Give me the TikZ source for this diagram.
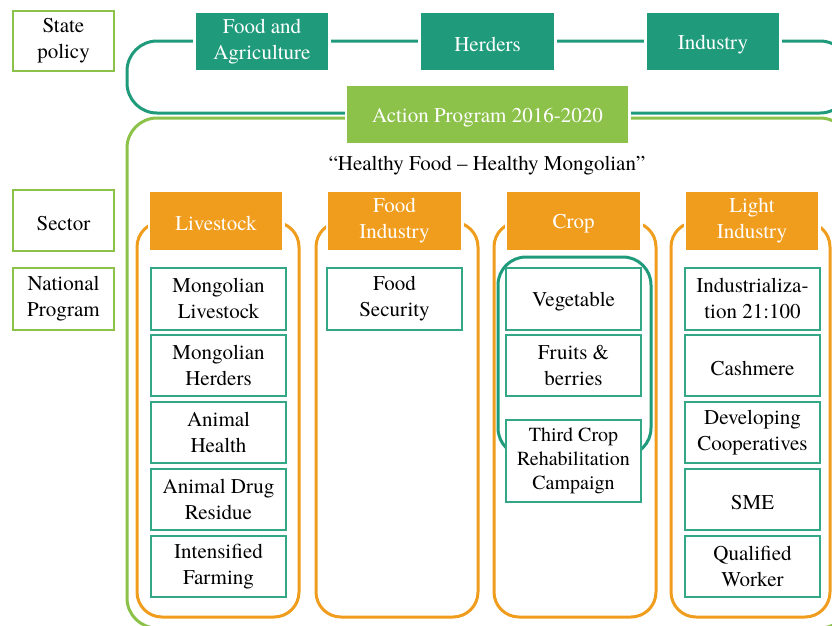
\documentclass[tikz,border=0pt]{standalone}
\usepackage{fontspec}
\setmainfont{texgyretermes-regular.otf}
\definecolor{teal1}{RGB}{31,155,123}
\definecolor{teal2}{RGB}{52,168,134}
\definecolor{green1}{RGB}{140,193,74}
\definecolor{orange1}{RGB}{240,157,30}
\newcommand{\mystrut}{\rule[-1pt]{0pt}{21pt}}
\begin{document}
\begin{tikzpicture}[x=1pt,y=-1pt,
  every node/.style={font=\rmfamily\fontsize{21}{26}\selectfont, align=center, inner sep=0pt,
    execute at begin node=\mystrut, execute at end node=\mystrut},
  labelbox/.style={draw=green1, line width=2.5pt, fill=white, text=black},
  policybox/.style={fill=teal1, text=white, preaction={draw=white, line width=6pt}},
  actionbox/.style={fill=green1, text=white, preaction={draw=white, line width=5pt}},
  headbox/.style={fill=orange1, text=white, preaction={draw=white, line width=5pt}},
  progbox/.style={draw=teal2, line width=1.5pt, fill=white, text=black},
  tealframe/.style={draw=teal1, line width=3pt, rounded corners=30pt},
  greenframe/.style={draw=green1, line width=3pt, rounded corners=30pt},
  orangeframe/.style={draw=orange1, line width=3pt, rounded corners=25pt},
  cropframe/.style={draw=teal1, line width=3pt, rounded corners=28pt}
]
\useasboundingbox (0,0) rectangle (832,625);

% left labels
\node[labelbox, minimum width=101pt, minimum height=60pt] (state) at (63.5,41) {State\\policy};
\node[labelbox, minimum width=101pt, minimum height=61pt] (sector) at (63.5,220.5) {Sector};
\node[labelbox, minimum width=101pt, minimum height=62pt] (natprog) at (63.5,299) {National\\Program};

% frames
\draw[tealframe] (127,41) rectangle (850,113);
\draw[greenframe] (127,118) rectangle (850,628);
\foreach \x/\w in {137/162,316/162,494/162,671/159} {
  \draw[orangeframe] (\x,222) rectangle ({\x+\w},617);
}
\draw[cropframe] (498,257) rectangle (651,456);

% state policy boxes
\node[policybox, minimum width=132pt, minimum height=57pt] (foodag) at (262,41.5) {Food and\\Agriculture};
\node[policybox, minimum width=133pt, minimum height=57pt] (herders) at (487.5,41.5) {Herders};
\node[policybox, minimum width=132pt, minimum height=57pt] (industry) at (713,41.5) {Industry};

% action program
\node[actionbox, minimum width=281pt, minimum height=57pt] (action) at (487.5,114.5) {Action Program 2016-2020};
\node (quote) at (487,163) {“Healthy Food – Healthy Mongolian”};

% sector headers
\node[headbox, minimum width=132pt, minimum height=58pt] (hlive) at (216,221) {Livestock};
\node[headbox, minimum width=133pt, minimum height=58pt] (hfood) at (394.5,221) {Food\\Industry};
\node[headbox, minimum width=133pt, minimum height=58pt] (hcrop) at (573.5,221) {Crop};
\node[headbox, minimum width=132pt, minimum height=58pt] (hlight) at (752,221) {Light\\Industry};

% livestock programs
\node[progbox, minimum width=135pt, minimum height=62pt] (l1) at (218.5,299) {Mongolian\\Livestock};
\node[progbox, minimum width=135pt, minimum height=61pt] (l2) at (218.5,365.5) {Mongolian\\Herders};
\node[progbox, minimum width=135pt, minimum height=61pt] (l3) at (218.5,432.5) {Animal\\Health};
\node[progbox, minimum width=135pt, minimum height=61pt] (l4) at (218.5,499.5) {Animal Drug\\Residue};
\node[progbox, minimum width=135pt, minimum height=61pt] (l5) at (218.5,566.5) {Intensified\\Farming};

% food industry
\node[progbox, minimum width=135pt, minimum height=62pt] (f1) at (394.5,299) {Food\\Security};

% crop
\node[progbox, minimum width=135pt, minimum height=62pt] (c1) at (573.5,299) {Vegetable};
\node[progbox, minimum width=135pt, minimum height=61pt] (c2) at (573.5,365.5) {Fruits \&\\berries};
\node[progbox, minimum width=135pt, minimum height=82pt, font=\rmfamily\fontsize{20}{24}\selectfont,
  execute at begin node={\rule{0pt}{29pt}}] (c3) at (573.5,461) {Third Crop\\Rehabilitation\\Campaign};

% light industry
\node[progbox, minimum width=135pt, minimum height=62pt] (i1) at (752.5,299) {Industrializa-\\tion 21:100};
\node[progbox, minimum width=135pt, minimum height=61pt] (i2) at (752.5,365.5) {Cashmere};
\node[progbox, minimum width=135pt, minimum height=61pt] (i3) at (752.5,432.5) {Developing\\Cooperatives};
\node[progbox, minimum width=135pt, minimum height=61pt] (i4) at (752.5,499.5) {SME};
\node[progbox, minimum width=135pt, minimum height=61pt] (i5) at (752.5,566.5) {Qualified\\Worker};
\end{tikzpicture}
\end{document}
